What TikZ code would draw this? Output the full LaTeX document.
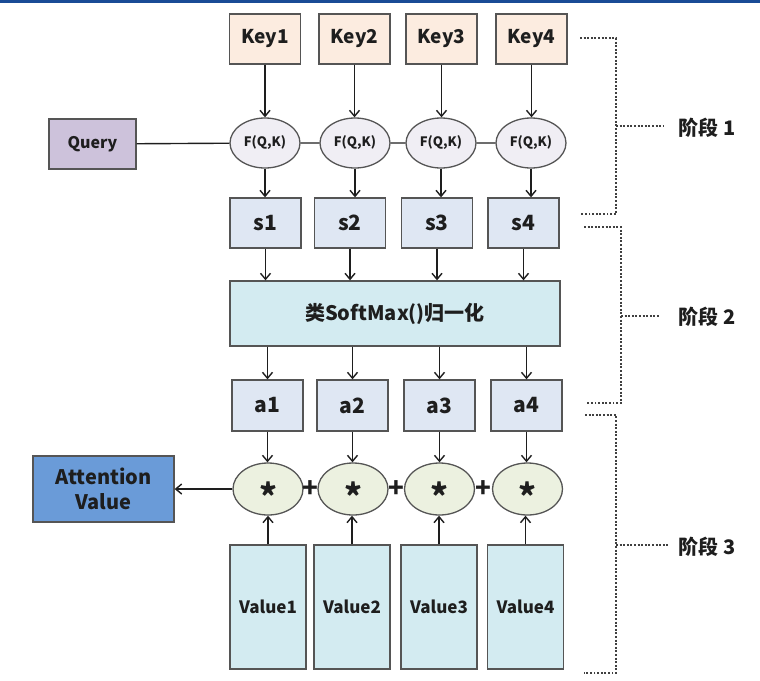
\documentclass[tikz,border=0pt]{standalone}
\usepackage{fontspec}
\setmainfont{Noto Sans CJK SC}
\usetikzlibrary{arrows.meta, calc, shapes}

\definecolor{keyfill}{RGB}{252,236,224}
\definecolor{ffill}{RGB}{240,238,244}
\definecolor{queryfill}{RGB}{205,194,219}
\definecolor{sfill}{RGB}{223,231,243}
\definecolor{cyanfill}{RGB}{211,235,241}
\definecolor{starfill}{RGB}{236,241,224}
\definecolor{attfill}{RGB}{106,155,216}
\definecolor{edge}{RGB}{85,85,85}
\definecolor{topbar}{RGB}{25,75,150}
\definecolor{ink}{RGB}{30,30,30}

\newcommand{\mulsign}{\raisebox{-20pt}[0pt][0pt]{*}}

\tikzset{
  box/.style={draw=edge, line width=1.3pt, inner sep=0pt, text=ink},
  keybox/.style={box, fill=keyfill, minimum width=71pt, minimum height=50pt, font=\fontsize{19}{20}\selectfont\bfseries},
  fqk/.style={box, ellipse, fill=ffill, minimum width=70pt, minimum height=50pt, font=\fontsize{13}{14}\selectfont\bfseries},
  querybox/.style={box, fill=queryfill, minimum width=87pt, minimum height=50pt, font=\fontsize{16}{17}\selectfont\bfseries},
  sbox/.style={box, fill=sfill, minimum width=71pt, minimum height=50pt, font=\fontsize{21}{22}\selectfont\bfseries},
  normbox/.style={box, fill=cyanfill, minimum width=330pt, minimum height=65pt, font=\fontsize{20}{21}\selectfont\bfseries},
  starnode/.style={box, ellipse, fill=starfill, minimum width=70pt, minimum height=52pt, font=\fontsize{34}{34}\selectfont\bfseries},
  attbox/.style={box, fill=attfill, minimum width=141pt, minimum height=66pt, align=center, font=\fontsize{20}{25}\selectfont\bfseries},
  valbox/.style={box, fill=cyanfill, minimum width=76pt, minimum height=124pt, font=\fontsize{17}{18}\selectfont\bfseries},
  plus/.style={text=ink, inner sep=0pt, font=\fontsize{26}{26}\selectfont\bfseries},
  stagelabel/.style={text=ink, inner sep=0pt, font=\fontsize{20}{21}\selectfont\bfseries},
  link/.style={draw=ink, line width=1.4pt},
  bracket/.style={draw=ink!85, line width=1.9pt, dash pattern=on 1.9pt off 1.7pt}
}

\begin{document}
\begin{tikzpicture}[x=1pt, y=-1pt, >={Straight Barb[length=6pt,width=10pt]}]
  \useasboundingbox (0,0) rectangle (760,680);
  \fill[topbar] (0,0) rectangle (760,2.5);

  % keys and scoring
  \node[keybox] (k1) at (265,39) {Key1};
  \node[keybox] (k2) at (354.5,39) {Key2};
  \node[keybox] (k3) at (441.5,39) {Key3};
  \node[keybox] (k4) at (531.5,39) {Key4};
  \node[querybox] (q) at (92.5,144) {Query};
  \node[fqk] (f1) at (265,143) {F(Q,K)};
  \node[fqk] (f2) at (355,143) {F(Q,K)};
  \node[fqk] (f3) at (441,143) {F(Q,K)};
  \node[fqk] (f4) at (531,143) {F(Q,K)};
  \node[sbox] (s1) at (265.5,223) {s1};
  \node[sbox] (s2) at (350,223) {s2};
  \node[sbox] (s3) at (437,223) {s3};
  \node[sbox] (s4) at (523.5,223) {s4};

  % normalisation
  \node[normbox] (norm) at (395,313.5) {类SoftMax()归一化};
  \node[sbox, minimum height=51pt] (a1) at (267.5,405.5) {a1};
  \node[sbox, minimum height=51pt] (a2) at (352.5,405.5) {a2};
  \node[sbox, minimum height=51pt] (a3) at (439.5,405.5) {a3};
  \node[sbox, minimum height=51pt] (a4) at (526.5,405.5) {a4};

  % weighted sum
  \node[starnode] (m1) at (268,489) {\mulsign};
  \node[starnode] (m2) at (353,489) {\mulsign};
  \node[starnode] (m3) at (439.5,489) {\mulsign};
  \node[starnode] (m4) at (527.5,489) {\mulsign};
  \node[attbox] (att) at (103.5,489) {Attention\\Value};
  \node[valbox] (v1) at (268,607) {Value1};
  \node[valbox] (v2) at (352,607) {Value2};
  \node[valbox] (v3) at (439,607) {Value3};
  \node[valbox] (v4) at (525.5,607) {Value4};
  \node[plus] (p1) at ($(m1.east)!0.5!(m2.west)$) {+};
  \node[plus] (p2) at ($(m2.east)!0.5!(m3.west)$) {+};
  \node[plus] (p3) at ($(m3.east)!0.5!(m4.west)$) {+};

  % connectors
  \draw[link] (q) -- (f1) -- (f2) -- (f3) -- (f4);
  \draw[link, ->] (k1) -- (k1 |- f1.north);
  \draw[link, ->] (k2) -- (k2 |- f2.north);
  \draw[link, ->] (k3) -- (k3 |- f3.north);
  \draw[link, ->] (k4) -- (k4 |- f4.north);
  \draw[link, ->] (f1) -- (f1 |- s1.north);
  \draw[link, ->] (f2) -- (f2 |- s2.north);
  \draw[link, ->] (f3) -- (f3 |- s3.north);
  \draw[link, ->] (f4) -- (f4 |- s4.north);
  \draw[link, ->] (s1) -- (s1 |- norm.north);
  \draw[link, ->] (s2) -- (s2 |- norm.north);
  \draw[link, ->] (s3) -- (s3 |- norm.north);
  \draw[link, ->] (s4) -- (s4 |- norm.north);
  \draw[link, ->] (a1 |- norm.south) -- (a1);
  \draw[link, ->] (a2 |- norm.south) -- (a2);
  \draw[link, ->] (a3 |- norm.south) -- (a3);
  \draw[link, ->] (a4 |- norm.south) -- (a4);
  \draw[link, ->] (a1) -- (a1 |- m1.north);
  \draw[link, ->] (a2) -- (a2 |- m2.north);
  \draw[link, ->] (a3) -- (a3 |- m3.north);
  \draw[link, ->] (a4) -- (a4 |- m4.north);
  \draw[link, ->] (v1) -- (v1 |- m1.south);
  \draw[link, ->] (v2) -- (v2 |- m2.south);
  \draw[link, ->] (v3) -- (v3 |- m3.south);
  \draw[link, ->] (v4) -- (v4 |- m4.south);
  \draw[link, ->] (m1) -- (att);

  % stages
  \draw[bracket] (580,38) -- (616,38) -- (616,214) -- (581,214);
  \draw[bracket] (616,126) -- (663,126);
  \node[stagelabel] (st1) at (707,128) {阶段 1};
  \draw[bracket] (584,227) -- (621,227) -- (621,403) -- (587,403);
  \draw[bracket] (621,316) -- (659,316);
  \node[stagelabel] (st2) at (707,317) {阶段 2};
  \draw[bracket] (585,415) -- (616,415) -- (616,673) -- (584,673);
  \draw[bracket] (616,545) -- (668,545);
  \node[stagelabel] (st3) at (707,547) {阶段 3};
\end{tikzpicture}
\end{document}
